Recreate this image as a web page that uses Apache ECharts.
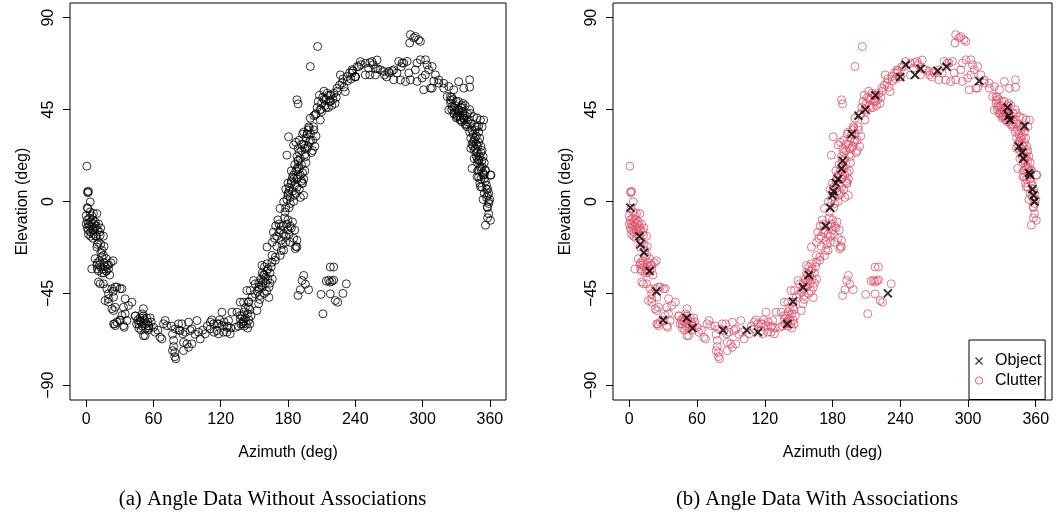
<!DOCTYPE html>
<html><head><meta charset="utf-8">
<script src="https://cdn.jsdelivr.net/npm/echarts@6/dist/echarts.min.js"></script>
<style>html,body{margin:0;padding:0;background:#fff}#c{width:1058px;height:514px}</style>
</head><body><div id="c"></div>
<script>
const xTicks = [0, 60, 120, 180, 240, 300, 360];
const yTicks = [-90, -45, 0, 45, 90];
const xRange = [-14.4, 374.4];
const yRange = [-97.2, 97.2];
const captions = ['(a) Angle Data Without Associations', '(b) Angle Data With Associations'];
const legendNames = ['Object', 'Clutter'];

// [azimuth, elevation] of the associated object measurements
const objects = [[1,-3],[9,-17],[10,-21],[13,-25],[18,-34],[24,-44],[30,-58],[51,-57],[56,-62],[83,-63],[104,-63],[114,-64],[140,-60],[145,-49],[154,-42],[159,-36],[174,-12],[178,-3],[180,3],[181,5],[183,9],[185,11],[188,16],[189,20],[197,33],[203,42],[209,45],[218,52],[240,61],[245,67],[253,62],[258,65],[273,64],[281,66],[310,59],[335,46],[336,42],[337,40],[345,27],[348,24],[349,21],[350,37],[354,14],[355,13],[357,6],[358,3],[359,0],[229,-45]];

const clutterLeftArm = [[0.6,17.3],[1.2,4.7],[1.6,4.3],[2.0,5.0],[3.6,-0.2],[1.5,-3.4],[3.6,-5.1],[6.5,-5.9],[9.5,-5.9],
[0,-7],[1,-9],[2,-11],[3,-8],[4,-10],[5,-12],[6,-9],[7,-11],[8,-13],[2,-14],[4,-15],[6,-14],[8,-10],[9,-12],[10,-14],[3,-12],[5,-7],[7,-16],[1,-13],[11,-11],[12,-15],[6,-18],[9,-17],[4,-17],[13,-13],[0,-11],[2,-16],
[12.5,-16.5],[15.4,-17],[9.5,-22.3],[14,-23.9],[15.4,-26.4],[11,-20],[13,-21],[16,-22],
[8,-28],[10,-30],[12,-29],[14,-27],[16,-30],[18,-28],[13,-32],[15,-33],[17,-32],[19,-31],[11,-34],[14,-35],[16,-35],[20,-33],[22,-30],[12,-31],[18,-34],[21,-36],[10,-33],[24,-29],[5,-33],[9.5,-31],[20,-31],
[12.5,-40.3],[11,-39.4],[15.4,-40.3],[18.4,-42.7],[22.9,-42.7],[25.9,-41.9],[30.3,-42.7],[27.4,-41.9],[31.9,-42.7],[16.9,-48.5],[19.9,-47.6],[19.9,-45.2],[24.4,-46.9],[19.9,-49.3],[22.9,-52.5],[24.4,-53.4],[34.8,-47.6],[37.8,-50.9],[40.8,-49.3],[33.3,-51.8],[34.8,-55],[25.9,-51.8],[24.4,-60],[25.3,-59.9],[25.9,-60.8],[27.4,-59.1],[30.3,-58.3],[33.3,-60.8],[33.9,-61.6],[31.9,-55.8],[36.3,-58.3],[43.7,-56.1]];

const clutterBottom = [[44,-56],[46,-58],[47,-60],[48,-57],[49,-59],[50,-61],[51,-56],[52,-58],[53,-60],[54,-57],[55,-59],[56,-61],[50,-55],[53,-62],[47,-62],[57,-57],[45,-60],[55,-63],[49,-63],[58,-59],[51.1,-52.5],[48.2,-58.3],[52.6,-65.7],[55.6,-60.8],[51.1,-65.7],[60.1,-61.6],[61.6,-64],[66,-66.5],[67.5,-67.3],[64,-63],[70.5,-58.3],[72,-60.8],[69,-59.9],
[76,-61],[77,-65],[78,-68],[78,-71],[79,-74],[79,-76],[80,-77],[77,-73],
[79.4,-62.4],[82.4,-59.9],[83.8,-63.2],[86.2,-64.8],[86.8,-73],[91.3,-59.1],[89.9,-69.7],[94.3,-69.7],[85.4,-59.9],[88.3,-64],[92.8,-63.2],[86.8,-69],[91.3,-71.4],[94.3,-62.4],[98.8,-58.3],[100.2,-64],[101.7,-67.3],[97,-65],
[106.2,-64.8],[110.7,-59.1],[113.7,-59.9],[118.1,-59.9],[116.6,-63.2],[121.1,-54.2],[122.6,-64],[125.5,-64],[125.5,-61.6],[110.7,-62.4],[116.6,-59.9],[121.1,-60.8],[128.5,-64.8],[118.1,-64.8],[127,-58.3],[112,-58],[119,-58],[123,-59],[126,-61],[129,-62],[108,-61],
[130,-54.2],[133.4,-61.6],[134.5,-54.2],[137.4,-57.5],[137.4,-49.3],[137.4,-55.8],[140.4,-58.3],
[139,-56],[140,-59],[141,-54],[142,-57],[143,-60],[144,-55],[145,-58],[146,-53],[141,-61],[144,-62],[147,-56],[138,-60],[142,-52],[146,-60],[136,-61],
[140.4,-49.3],[144.8,-49.3],[147.9,-46.9],[150.8,-45.2],[153.8,-50.1],[152.3,-53.4],[143.3,-43.6],[144.8,-51.8],[146.3,-43.6],[150.8,-40.3],[149.3,-38.7]];

const clutterRise = [[153,-44],[154,-40],[155,-46],[156,-38],[157,-42],[158,-36],[159,-45],[160,-40],[161,-34],[162,-38],[163,-42],[164,-35],[165,-32],[155,-48],[157,-35],[159,-32],[161,-44],[163,-47],[166,-38],[154,-43],[158,-39],[160,-37],[162,-33],[156,-41],[164,-40],
[156.8,-31.3],[161.3,-30.5],[165.7,-29.7],[165.7,-26.4],[168.7,-28.8],[173.1,-26.4],[176.1,-23.9],[161.3,-22.3],[168.7,-27.2],
[166,-20],[168,-18],[170,-22],[172,-15],[174,-19],[176,-12],[178,-17],[180,-14],[182,-20],[184,-10],[169,-12],[171,-9],[173,-14],[175,-21],[177,-8],[179,-11],[181,-16],[183,-13],[185,-18],[187,-22],[170,-17],[172,-11],[174,-24],[176,-16],[178,-20],[180,-9],[182,-12],[167,-15],[186,-14],[188,-19],[188,-22.3],[186.5,-23.1],
[176.1,-0.2],[172.9,-3.4],[177.4,-5.1],
[179,1],[180,4],[181,7],[182,2],[183,10],[184,5],[185,13],[186,8],[187,15],[188,11],[189,17],[190,6],[191,13],[192,18],[193,9],[194,3],[195,15],[182,-1],[184,12],[186,3],[188,7],[190,16],[192,10],[180,9],[183,15],[185,0],[187,4],[189,12],[191,2],[193,14],[178,6],[196,19],[194,11],[181,-3],[186,18],[192.5,8.8],
[180.5,31.7],[185,27.7],[179,22.7],
[188,22],[189,26],[190,30],[191,21],[192,25],[193,33],[194,28],[195,23],[196,31],[197,26],[198,35],[199,29],[200,33],[201,24],[202,30],[203,35],[204,27],[205,32],[190,24],[192,28],[194,34],[196,22],[198,27],[200,30],[202,25],[189,20],[197,33],[199,36],[187,29],[195,26],
[199.9,40.8],[204.4,42.4],[208.8,39.9],[198.4,36.6],[202.8,36.6]];

const clutterTop = [[199.9,66.1],[206.4,75.9],[188,49.8],[189,47.8],
[206,46],[207,49],[208,52],[209,45],[210,48],[211,51],[212,54],[213,47],[214,50],[215,53],[216,46],[217,49],[218,52],[219,47],[220,50],[221,53],[222,48],[223,51],[224,54],[210,44],[212,50],[214,46],[216,52],[218,49],[205,43],
[223.7,55.5],[226.7,62],[228.2,58],[231.1,53.8],[232.6,61.2],[237.1,62.9],[226,57],[229,60],[233,59],[235,63],[238,64],[240,61],[243,66],[230,56],[236,60],
[237.1,64.5],[241.6,66.1],[240.1,61.2],[244.5,68.5],[249,67.7],[251.9,65.3],[254.9,68.5],[259.4,69.3],[257.9,62],[262.4,64.5],[265.3,63.7],[249,62],[253,68],[256,67],[260,65],[266,62],[270,63],[268,61],
[269.8,63.7],[274.2,59.6],[278.7,68.6],[281.7,67.8],[284.7,58.7],[289.1,59.6],[295.1,67.8],[298.1,69.4],[301,54.7],[305.4,64.5],
[274.2,64.5],[277.2,62.9],[283.2,67.8],[286.2,68.6],[280.2,59.5],[287.7,62.9],[293.6,64.5],[295.1,58.8],[299.6,60.5],[302.6,69.4],[304,66.9],[308.5,66.1],[307,55.5],[311.5,62],[314.4,59.5],[318.9,57.9],[323.4,56.3],[327.8,54.7],[324.8,51.4],[302.5,62],[308.5,55.5],[314.4,58],[318.9,55.5],
[288.5,77.6],[289.1,81.7],[292.1,80.1],[293.6,80.8],[296.5,79.2],[298.1,78.4]];

const clutterRightArm = [[332.2,58.7],[336.7,55.5],[342,59.6],[342,56],
[321.9,51.4],[324.9,49.6],[323.4,44.8],[326.4,46.5],[327.8,43.2],[330.8,41.5],[332.3,44.8],[333.7,39.9],[336.7,40.7],[338.2,37.5],[339.7,36.6],
[325,48],[326,45],[327,50],[328,43],[329,47],[330,41],[331,45],[332,49],[333,42],[334,46],[335,39],[336,44],[337,41],[338,47],[339,38],[340,43],[341,40],[342,45],[343,38],[326,51],[328,46],[330,49],[332,44],[334,40],[336,48],[338,42],[340,39],[329,44],[331,42],[335,47],
[342.7,43.2],[348.6,40.8],[351.6,39.9],[354.5,39.9],[353.1,36.6],[348.6,36.6],[345.6,41.5],[347.1,36.6],
[342,34],[343,31],[344,28],[345,33],[346,30],[347,26],[348,32],[349,24],[350,29],[351,22],[352,27],[353,20],[344,35],[346,25],[348,22],[350,34],[345,29],[347,31],[349,27],[351,31],[353,25],[346,21],[348,28],[350,20],[352,24],[343,26],[354,22],[355,19],[347,35],[349,19],
[344.1,16.2],[350.1,20.3],[351.6,17],[350,15.4],[356,15.4],
[349,15],[350,12],[351,9],[352,16],[353,7],[354,13],[355,4],[356,10],[357,2],[358,6],[359,-1],[356,15],[354,1],[357,8],[359,4],[355,11],[353,17],[358,-3],[352,11],[360,1],[361,13],[360.5,12.9],[351.6,7.2],[348.6,12.1],
[359,-6],[360.5,-9.2],[356.1,-11.6],[358,-8],[357.6,-2.6]];

const clutterIslands = [[188.9,-46],[192.5,-38.7],[191,-43.2],[194,-36.2],[198.4,-43.2],[195.5,-40.5],
[209.4,-45.5],[211.2,-55],[217.7,-45.2],[222.2,-48.5],[224.3,-49.3],[232,-40.3],[214.2,-39],[216.2,-38.5],[217.5,-39.5],[219.2,-39],[220.7,-38.5],[217.7,-32.1],[220.7,-32.1]];

const clutter = [].concat(clutterLeftArm, clutterBottom, clutterRise, clutterTop, clutterRightArm, clutterIslands);

const RED = '#DF536B';
const SANS = '"Liberation Sans", Arial, Helvetica, sans-serif';
const SERIF = '"Liberation Serif", "Times New Roman", serif';
const FS = 16;
const CROSS = 'path://M0,0L10,10M0,10L10,0';
const fmt = v => String(v).replace('-', '\u2212');

function xAxis(i) {
  return {gridIndex: i, type: 'value', position: 'bottom', min: xRange[0], max: xRange[1],
    name: 'Azimuth (deg)', nameLocation: 'middle', nameGap: 45,
    nameTextStyle: {fontFamily: SANS, fontSize: FS, color: '#000'},
    axisLine: {show: false, onZero: false}, splitLine: {show: false},
    axisTick: {show: true, length: 7, customValues: xTicks, lineStyle: {color: '#000', width: 1}},
    axisLabel: {customValues: xTicks, margin: 12, fontFamily: SANS, fontSize: FS, color: '#000', formatter: fmt}};
}
function yAxis(i) {
  return {gridIndex: i, type: 'value', position: 'left', min: yRange[0], max: yRange[1],
    name: 'Elevation (deg)', nameLocation: 'middle', nameGap: 39, nameRotate: 90,
    nameTextStyle: {fontFamily: SANS, fontSize: FS, color: '#000'},
    axisLine: {show: false, onZero: false}, splitLine: {show: false},
    axisTick: {show: true, length: 7, customValues: yTicks, lineStyle: {color: '#000', width: 1}},
    axisLabel: {customValues: yTicks, rotate: 90, margin: 13, fontFamily: SANS, fontSize: FS, color: '#000', formatter: fmt}};
}

const chart = echarts.init(document.getElementById('c'), null, {renderer: 'canvas'});
chart.setOption({
  animation: false,
  backgroundColor: '#fff',
  title: [
    {text: captions[0], left: 272.5, top: 489, textAlign: 'center', padding: 0,
     textStyle: {fontFamily: SERIF, fontSize: 20.8, fontWeight: 'normal', color: '#000'}},
    {text: captions[1], left: 817, top: 489, textAlign: 'center', padding: 0,
     textStyle: {fontFamily: SERIF, fontSize: 20.8, fontWeight: 'normal', color: '#000'}}
  ],
  grid: [
    {left: 70, top: 3, width: 436, height: 397, show: true, borderColor: '#000', borderWidth: 1, backgroundColor: 'transparent'},
    {left: 613, top: 3, width: 439, height: 397, show: true, borderColor: '#000', borderWidth: 1, backgroundColor: 'transparent'}
  ],
  xAxis: [xAxis(0), xAxis(1)],
  yAxis: [yAxis(0), yAxis(1)],
  legend: {
    orient: 'vertical', left: 969, top: 340,
    padding: [13, 3, 11, 4], itemGap: 3.5, itemWidth: 22, itemHeight: 7,
    borderColor: '#000', borderWidth: 1, backgroundColor: '#fff',
    textStyle: {fontFamily: SANS, fontSize: FS, color: '#000'},
    selectedMode: false,
    data: [
      {name: legendNames[0], icon: CROSS, itemStyle: {color: 'none', borderColor: '#000', borderWidth: 1.2}},
      {name: legendNames[1], icon: 'circle', itemStyle: {color: 'none', borderColor: RED, borderWidth: 1.1}}
    ]
  },
  series: [
    {type: 'scatter', name: 'All', xAxisIndex: 0, yAxisIndex: 0, data: clutter.concat(objects),
     symbol: 'circle', symbolSize: 8, silent: true, large: false,
     itemStyle: {color: 'none', borderColor: '#000', borderWidth: 1}},
    {type: 'scatter', name: legendNames[1], xAxisIndex: 1, yAxisIndex: 1, data: clutter,
     symbol: 'circle', symbolSize: 8, silent: true, large: false,
     itemStyle: {color: 'none', borderColor: RED, borderWidth: 1}},
    {type: 'scatter', name: legendNames[0], xAxisIndex: 1, yAxisIndex: 1, data: objects,
     symbol: CROSS, symbolSize: 8, silent: true, large: false,
     itemStyle: {color: 'none', borderColor: '#000', borderWidth: 2}}
  ]
});
</script>
</body></html>
